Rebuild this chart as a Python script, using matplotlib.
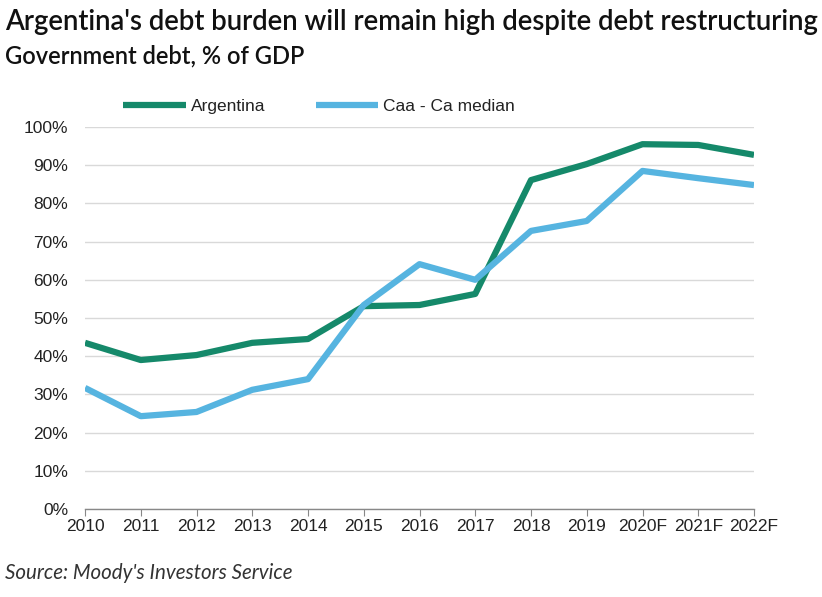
import matplotlib
matplotlib.use("Agg")
import matplotlib.pyplot as plt

years = ["2010", "2011", "2012", "2013", "2014", "2015", "2016", "2017",
         "2018", "2019", "2020F", "2021F", "2022F"]
argentina = [43.5, 39.0, 40.3, 43.5, 44.5, 53.1, 53.4, 56.3, 86.1, 90.3, 95.5, 95.3, 92.7]
caa_median = [31.7, 24.3, 25.4, 31.2, 34.0, 53.4, 64.1, 60.0, 72.8, 75.4, 88.5, 86.6, 84.8]
yticks = [0, 10, 20, 30, 40, 50, 60, 70, 80, 90, 100]

W, H = 822, 597
fig = plt.figure(figsize=(W / 100, H / 100), dpi=100)
ax = fig.add_axes([85 / W, 1 - 509 / H, (754 - 85) / W, (509 - 127) / H])

green = "#15896a"
blue = "#56b4e0"
x = list(range(len(years)))
ax.plot(x, argentina, color=green, lw=4.5, label="Argentina", solid_capstyle="butt", zorder=3)
ax.plot(x, caa_median, color=blue, lw=4.5, label="Caa - Ca median", solid_capstyle="butt", zorder=3)

ax.set_xlim(0, len(years) - 1)
ax.set_ylim(0, 100)
ax.set_yticks(yticks)
ax.set_yticklabels([f"{v}%" for v in yticks], fontfamily="Liberation Sans", fontsize=12.5, color="#222222")
ax.set_xticks(x)
ax.set_xticklabels(years, fontfamily="Liberation Sans", fontsize=12.5, color="#222222")
ax.grid(axis="y", color="#d9d9d9", lw=1)
ax.set_axisbelow(True)
for s in ["left", "right", "top"]:
    ax.spines[s].set_visible(False)
ax.spines["bottom"].set_color("#888888")
ax.spines["bottom"].set_linewidth(1)
ax.tick_params(axis="y", length=0, pad=12)
ax.tick_params(axis="x", length=5, color="#888888", direction="out", pad=2)

leg = ax.legend(loc="lower left", bbox_to_anchor=(38 / (754 - 85), 1.035), ncol=2, frameon=False,
                prop={"family": "Liberation Sans", "size": 12.5}, handlelength=3.6,
                handletextpad=0.3, columnspacing=2.9, borderaxespad=0, borderpad=0)
for t in leg.get_texts():
    t.set_color("#222222")

fig.text(5 / W, 1 - 22 / H, "Argentina's debt burden will remain high despite debt restructuring",
         fontfamily="Lato", fontsize=19.8, fontweight="semibold", va="center", ha="left", color="#111111")
fig.text(5 / W, 1 - 56 / H, "Government debt, % of GDP",
         fontfamily="Lato", fontsize=17, fontweight="semibold", va="center", ha="left", color="#111111")
fig.text(5 / W, 1 - 573 / H, "Source: Moody's Investors Service",
         fontfamily="Lato", fontsize=14.8, style="italic", va="center", ha="left", color="#333333")

fig.savefig("out.png", dpi=100)
